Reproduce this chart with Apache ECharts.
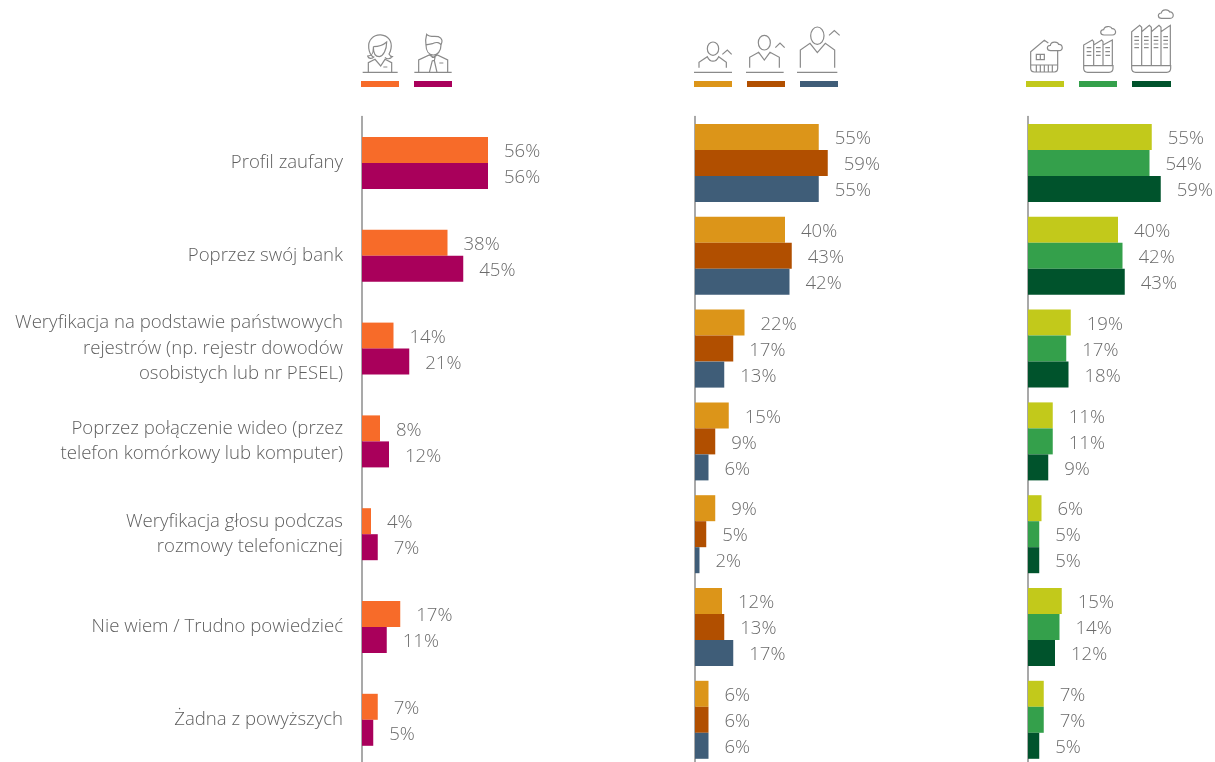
<!DOCTYPE html>
<html>
<head>
<meta charset="utf-8">
<style>
  html, body { margin: 0; padding: 0; background: #fff; }
  #chart { width: 1215px; height: 762px; }
</style>
</head>
<body>
<div id="chart"></div>
<script src="https://cdn.jsdelivr.net/npm/echarts@6/dist/echarts.min.js"></script>
<script>
const categories = [
  'Profil zaufany',
  'Poprzez swój bank',
  'Weryfikacja na podstawie państwowych\nrejestrów (np. rejestr dowodów\nosobistych lub nr PESEL)',
  'Poprzez połączenie wideo (przez\ntelefon komórkowy lub komputer)',
  'Weryfikacja głosu podczas\nrozmowy telefonicznej',
  'Nie wiem / Trudno powiedzieć',
  'Żadna z powyższych'
]

// płeć
const women = [56, 38, 14, 8, 4, 17, 7]
const men = [56, 45, 21, 12, 7, 11, 5]
// wiek
const ageYoung = [55, 40, 22, 15, 9, 12, 6]
const ageMiddle = [59, 43, 17, 9, 5, 13, 6]
const ageOld = [55, 42, 13, 6, 2, 17, 6]
// miejsce zamieszkania
const townSmall = [55, 40, 19, 11, 6, 15, 7]
const townMedium = [54, 42, 17, 11, 5, 14, 7]
const townBig = [59, 43, 18, 9, 5, 12, 5]

const panels = [
  { left: 362, series: [['Kobiety', women, '#F76B29'], ['Mężczyźni', men, '#A9005B']] },
  { left: 695, series: [['18-34', ageYoung, '#DC9519'], ['35-54', ageMiddle, '#B14F00'], ['55+', ageOld, '#3F5D78']] },
  { left: 1028, series: [['Małe', townSmall, '#C2C91B'], ['Średnie', townMedium, '#34A04B'], ['Duże', townBig, '#00532C']] }
]

const swatches = [
  [361, 38, '#F76B29'], [414, 38, '#A9005B'],
  [694, 38, '#DC9519'], [747, 38, '#B14F00'], [800, 38, '#3F5D78'],
  [1026, 38, '#C2C91B'], [1079, 38, '#34A04B'], [1132, 39, '#00532C']
]

// ikony rysowane w skali 3x, potem zmniejszane przez scale
const cloud = (x, y) => `M${x} ${y} c-13 0 -13 -16 -1 -16 c2 -12 22 -12 25 -3 c12 -2 16 19 1 19 z`
const dashes = (xs, ys, w) => xs.map((x) => ys.map((y) => `M${x} ${y} h${w}`).join(' ')).join(' ')
const ellipse = (cx, cy, rx, ry) => `M${cx - rx} ${cy} a${rx} ${ry} 0 1 1 ${2 * rx} 0 a${rx} ${ry} 0 1 1 ${-2 * rx} 0 z`

const iconsGender = [
  // kobieta
  'M68 157 H173',
  'M100 112 C85 100 80 70 95 55 C110 40 135 42 148 58 C160 75 150 98 147 102 C150 108 153 110 157 110 C150 118 140 118 135 112',
  'M100 80 C120 80 130 75 140 66 C140 90 130 108 118 110 C105 110 100 95 100 80',
  'M100 85 C100 100 97 108 83 108 C85 116 95 118 103 110',
  'M85 157 V128 L105 118 L122 138 L135 118 L155 128 V157',
  'M130 141 H142',
  // mężczyzna
  'M223 157 H335',
  'M258 75 C258 95 268 105 280 105 C292 105 303 95 303 75',
  'M258 75 C255 60 258 50 260 43 C268 52 285 48 295 50 C308 55 308 65 303 75 C300 68 290 65 280 70 C270 74 262 72 258 75',
  'M236 157 V120 L268 105 L280 112 L292 105 L323 120 V157',
  'M275 112 H285 L283 122 L291 157 M277 122 L268 157 M277 122 H283',
  'M298 129 H310'
]
const iconsAge = [
  'M42 157 H156', ellipse(99, 86, 17, 20), 'M57 143 V127 L82 110 C90 128 108 128 116 110 L139 127 V143', 'M127 103 L142 90 L155 103',
  'M198 157 H311', ellipse(253, 68, 18, 22), 'M209 143 V112 L236 97 L253 120 L270 97 L298 112 V143', 'M286 83 L300 69 L314 83',
  'M351 157 H472', ellipse(412, 47, 20, 26), 'M361 143 V90 L390 70 L412 98 L436 70 L464 90 V143', 'M447 46 L463 32 L479 46'
]
const iconsTown = [
  'M100 129 L88 121 L47 155 V205 Q47 216 58 216 H118 Q128 216 128 205 V152',
  'M64 163 H88 V179 H64 Z M76 163 V179',
  'M47 195 H128 M64 195 V216 M76 195 V216 M88 195 V216 M100 195 V216 M112 195 V216',
  cloud(107, 152),
  'M206 197 V135 L232 120 L236 125 V197 M236 135 L260 120 L264 125 V197 M264 135 L292 120 V197',
  'M206 197 H294 V205 Q294 217 282 217 H218 Q206 217 206 205 Z',
  dashes([215, 243, 271], [143, 155, 166], 14),
  cloud(267, 105),
  'M350 195 V95 L374 76 L380 82 V195 M380 95 L403 76 L409 82 V195 M409 95 L432 76 L438 82 V195 M438 95 L466 76 V195',
  'M350 197 H467 V205 Q467 217 455 217 H362 Q350 217 350 205 Z',
  dashes([358, 387, 416, 445], [110, 121, 132, 143], 14),
  cloud(440, 55)
]

const FONT = '"Open Sans", "Noto Sans", sans-serif'

// komponent graphic nie zna typu 'path', wiec rejestrujemy wlasne ksztalty
const iconGroup = (name, x, y, paths) => {
  echarts.graphic.registerShape(name, echarts.graphic.extendPath(paths.join(' ')))
  return {
    type: name,
    x,
    y,
    scaleX: 1 / 3,
    scaleY: 1 / 3,
    style: { fill: 'none', stroke: '#8a8a8a', lineWidth: 3.6 }
  }
}

const chart = echarts.init(document.getElementById('chart'), null, { renderer: 'canvas' })

chart.setOption({
  animation: false,
  textStyle: { fontFamily: FONT },
  // outerBoundsMode: siatka wychodzi poza dol okna, jak w oryginale
  grid: panels.map((p) => ({ left: p.left, top: 116.6, width: 180, height: 649.6, outerBoundsMode: 'none' })),
  xAxis: panels.map((p, i) => ({ type: 'value', gridIndex: i, min: 0, max: 80, show: false })),
  yAxis: panels.map((p, i) => ({
    type: 'category',
    gridIndex: i,
    inverse: true,
    data: categories,
    axisTick: { show: false },
    axisLine: { lineStyle: { color: '#8c8c8c', width: 1.5 } },
    axisLabel: {
      show: i === 0,
      margin: 19,
      fontFamily: FONT,
      fontSize: 18.6,
      fontWeight: 300,
      lineHeight: 25.5,
      color: '#5f5f5f',
      align: 'right'
    }
  })),
  series: panels.flatMap((p, i) =>
    p.series.map(([name, values, color]) => ({
      name,
      type: 'bar',
      xAxisIndex: i,
      yAxisIndex: i,
      data: values,
      barWidth: 26,
      barGap: 0,
      itemStyle: { color },
      label: {
        show: true,
        position: 'right',
        distance: 16,
        offset: [0, 2],
        formatter: '{c}%',
        fontFamily: FONT,
        fontSize: 18.6,
        fontWeight: 300,
        color: '#6b6b6b'
      }
    }))
  ),
  graphic: [
    ...swatches.map(([x, w, color]) => ({
      type: 'rect',
      shape: { x, y: 81, width: w, height: 6 },
      style: { fill: color }
    })),
    iconGroup('iconGender', 340, 20, iconsGender),
    iconGroup('iconAge', 680, 20, iconsAge),
    iconGroup('iconTown', 1015, 0, iconsTown)
  ]
})
</script>
</body>
</html>
